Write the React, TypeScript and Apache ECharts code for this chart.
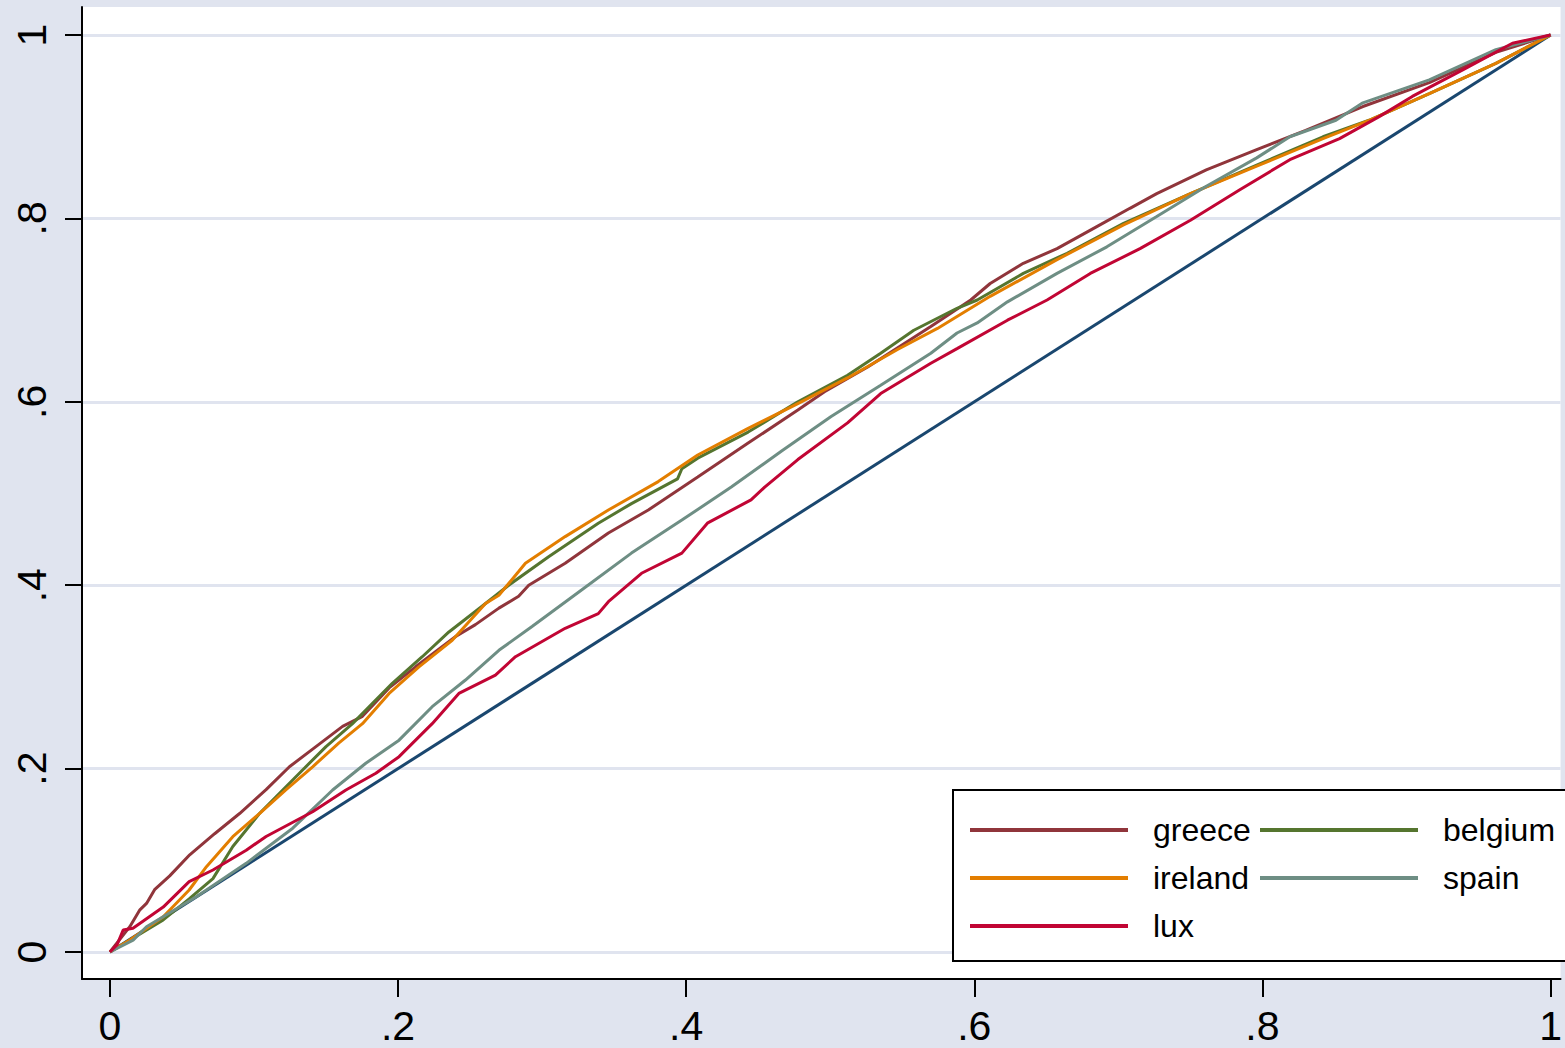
import React, { useEffect, useRef } from "react";
import * as echarts from "echarts";

const tickValues = [0, 0.2, 0.4, 0.6, 0.8, 1];
const tickLabels = ["0", ".2", ".4", ".6", ".8", "1"];

const equality: [number, number][] = [[0, 0], [1, 1]];

const greece: [number, number][] = [
  [0, 0], [0.0138, 0.0276], [0.0208, 0.046], [0.0254, 0.053], [0.031, 0.068], [0.0415, 0.083],
  [0.0554, 0.106], [0.0727, 0.129], [0.09, 0.151], [0.1084, 0.177], [0.1246, 0.202],
  [0.143, 0.224], [0.1615, 0.246], [0.1753, 0.257], [0.1938, 0.288], [0.2122, 0.311],
  [0.24, 0.344], [0.2537, 0.357], [0.27, 0.375], [0.2837, 0.388], [0.2907, 0.4],
  [0.316, 0.424], [0.346, 0.457], [0.3737, 0.482], [0.408, 0.518], [0.443, 0.555],
  [0.4775, 0.591], [0.496, 0.611], [0.526, 0.638], [0.5698, 0.682], [0.5975, 0.711],
  [0.611, 0.729], [0.634, 0.751], [0.6574, 0.767], [0.685, 0.791], [0.708, 0.811],
  [0.7266, 0.827], [0.761, 0.853], [0.796, 0.875], [0.83, 0.896], [0.8697, 0.922],
  [0.9158, 0.948], [0.962, 0.981], [1, 1],
];

const belgium: [number, number][] = [
  [0, 0], [0.016, 0.015], [0.037, 0.035], [0.055, 0.058], [0.0715, 0.08], [0.0853, 0.115],
  [0.1038, 0.151], [0.1315, 0.195], [0.15, 0.224], [0.1684, 0.249], [0.196, 0.293],
  [0.2168, 0.322], [0.2353, 0.349], [0.2583, 0.377], [0.2768, 0.4], [0.3045, 0.431],
  [0.339, 0.4675], [0.362, 0.489], [0.394, 0.516], [0.397, 0.527], [0.408, 0.5385],
  [0.443, 0.567], [0.4775, 0.6], [0.512, 0.629], [0.535, 0.653], [0.558, 0.678],
  [0.588, 0.702], [0.602, 0.711], [0.634, 0.74], [0.6644, 0.762], [0.7036, 0.7945],
  [0.75, 0.827], [0.796, 0.858], [0.842, 0.889], [0.874, 0.907], [0.9158, 0.936],
  [0.962, 0.969], [1, 1],
];

const ireland: [number, number][] = [
  [0, 0], [0.0138, 0.013], [0.037, 0.0385], [0.055, 0.0676], [0.067, 0.093], [0.0853, 0.1257],
  [0.1038, 0.151], [0.1223, 0.177], [0.1407, 0.202], [0.159, 0.228], [0.1753, 0.249],
  [0.1938, 0.282], [0.2145, 0.311], [0.2376, 0.34], [0.2607, 0.38], [0.27, 0.389],
  [0.2837, 0.415], [0.2884, 0.424], [0.316, 0.453], [0.346, 0.482], [0.3806, 0.513],
  [0.408, 0.542], [0.443, 0.571], [0.4775, 0.598], [0.512, 0.626], [0.5467, 0.657],
  [0.5744, 0.68], [0.588, 0.693], [0.611, 0.715], [0.6574, 0.755], [0.7036, 0.793],
  [0.75, 0.827], [0.796, 0.857], [0.842, 0.887], [0.874, 0.907], [0.9158, 0.936],
  [0.962, 0.969], [1, 1],
];

const spain: [number, number][] = [
  [0, 0], [0.0161, 0.013], [0.0254, 0.0276], [0.06, 0.0603], [0.0946, 0.0967], [0.1269, 0.135],
  [0.1546, 0.1767], [0.1776, 0.2058], [0.2007, 0.231], [0.2237, 0.2675], [0.2468, 0.2966],
  [0.27, 0.329], [0.293, 0.355], [0.3276, 0.395], [0.362, 0.435], [0.397, 0.471],
  [0.4313, 0.507], [0.466, 0.546], [0.5006, 0.584], [0.535, 0.618], [0.5698, 0.653],
  [0.588, 0.675], [0.602, 0.686], [0.623, 0.709], [0.6574, 0.74], [0.692, 0.769],
  [0.7266, 0.802], [0.761, 0.835], [0.796, 0.866], [0.819, 0.889], [0.851, 0.907],
  [0.8697, 0.926], [0.9158, 0.951], [0.962, 0.984], [1, 1],
];

const lux: [number, number][] = [
  [0, 0], [0.005, 0.008], [0.0092, 0.024], [0.016, 0.026], [0.037, 0.049], [0.055, 0.0767],
  [0.0715, 0.0894], [0.0946, 0.111], [0.1084, 0.126], [0.1407, 0.153], [0.1638, 0.1767],
  [0.1846, 0.195], [0.2007, 0.213], [0.2237, 0.249], [0.2422, 0.282], [0.2676, 0.302],
  [0.2815, 0.322], [0.316, 0.353], [0.339, 0.369], [0.346, 0.382], [0.369, 0.413],
  [0.397, 0.435], [0.415, 0.468], [0.445, 0.493], [0.4545, 0.507], [0.4775, 0.537],
  [0.512, 0.577], [0.535, 0.609], [0.5698, 0.642], [0.588, 0.658], [0.623, 0.689],
  [0.6505, 0.711], [0.6805, 0.74], [0.715, 0.767], [0.75, 0.798], [0.784, 0.831],
  [0.819, 0.864], [0.8535, 0.887], [0.881, 0.911], [0.904, 0.933], [0.939, 0.962],
  [0.9735, 0.991], [1, 1],
];

const seriesDefs = [
  { name: "equality", data: equality, color: "#1a476f" },
  { name: "greece", data: greece, color: "#90353b" },
  { name: "belgium", data: belgium, color: "#55752f" },
  { name: "ireland", data: ireland, color: "#e37e00" },
  { name: "spain", data: spain, color: "#6e8e84" },
  { name: "lux", data: lux, color: "#c10534" },
];

const BG = "#e0e4ef";
const FONT = "Liberation Sans";

function fmt(v: number): string {
  const i = tickValues.findIndex((t) => Math.abs(t - v) < 1e-6);
  return i >= 0 ? tickLabels[i] : "";
}

export default function App() {
  const ref = useRef<HTMLDivElement>(null);

  useEffect(() => {
    if (!ref.current) return;
    const chart = echarts.init(ref.current, null, { renderer: "svg" });
    const legendText = {
      fontFamily: FONT,
      fontSize: 32,
      color: "#000",
      lineHeight: 30,
      padding: [0, 0, 0, 20],
    };
    chart.setOption({
      animation: false,
      backgroundColor: BG,
      grid: {
        left: 82,
        top: 7,
        right: 0,
        bottom: 69,
        show: true,
        backgroundColor: "#ffffff",
        borderWidth: 0,
      },
      xAxis: {
        type: "value",
        min: -0.01938,
        max: 1.00692,
        axisLine: { show: true, onZero: false, lineStyle: { color: "#000", width: 2 } },
        axisTick: { show: true, length: 18, customValues: tickValues, lineStyle: { color: "#000", width: 2 } },
        axisLabel: {
          customValues: tickValues,
          formatter: fmt,
          margin: 29,
          lineHeight: 36,
          fontFamily: FONT,
          fontSize: 41,
          color: "#000",
        },
        splitLine: { show: false },
      },
      yAxis: {
        type: "value",
        min: -0.02944,
        max: 1.03053,
        axisLine: { show: true, onZero: false, lineStyle: { color: "#000", width: 2 } },
        axisTick: { show: true, length: 17, customValues: tickValues, lineStyle: { color: "#000", width: 2 } },
        axisLabel: {
          customValues: tickValues,
          formatter: fmt,
          rotate: 90,
          margin: 32,
          lineHeight: 36,
          fontFamily: FONT,
          fontSize: 41,
          color: "#000",
        },
        splitLine: { show: true, lineStyle: { color: BG, width: 3 } },
      },
      legend: [
        {
          data: ["greece", "ireland", "lux"],
          orient: "vertical",
          left: 970,
          top: 814,
          padding: 0,
          itemGap: 16,
          itemWidth: 158,
          itemHeight: 4,
          icon: "rect",
          textStyle: legendText,
          selectedMode: false,
          z: 10,
        },
        {
          data: ["belgium", "spain"],
          orient: "vertical",
          left: 1260,
          top: 814,
          padding: 0,
          itemGap: 16,
          itemWidth: 158,
          itemHeight: 4,
          icon: "rect",
          textStyle: legendText,
          selectedMode: false,
          z: 10,
        },
      ],
      graphic: [
        {
          type: "rect",
          z: 5,
          shape: { x: 953, y: 790, width: 640, height: 171 },
          style: { fill: "#ffffff", stroke: "#000", lineWidth: 2 },
        },
      ],
      series: seriesDefs.map((s) => ({
        name: s.name,
        type: "line",
        data: s.data,
        showSymbol: false,
        symbol: "none",
        color: s.color,
        lineStyle: { color: s.color, width: 3 },
        emphasis: { disabled: true },
      })),
    });
    return () => chart.dispose();
  }, []);

  return (
    <div
      ref={ref}
      style={{ position: "absolute", left: 0, top: 0, width: 1565, height: 1048 }}
    />
  );
}
